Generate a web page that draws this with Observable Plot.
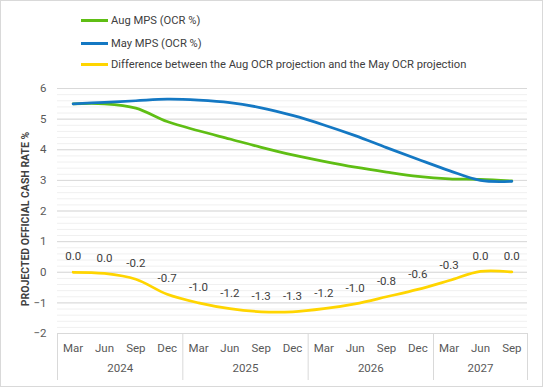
<!DOCTYPE html>
<html>
<head>
<meta charset="utf-8">
<script src="https://cdn.jsdelivr.net/npm/d3@7"></script>
<script src="https://cdn.jsdelivr.net/npm/@observablehq/plot@0.6"></script>
<style>
  html, body { margin: 0; padding: 0; background: #fff; }
  #chart { position: relative; width: 543px; height: 387px; overflow: hidden; background: #fff;
           font-family: "Roboto", "Liberation Sans", sans-serif; }
  #legend { position: absolute; left: 0; top: 0; width: 543px; height: 80px; }
  .item { position: absolute; left: 81px; height: 16px; display: flex; align-items: center; }
  .sw { width: 27px; height: 3px; margin-right: 3px; }
  .lbl { font-size: 11.2px; color: #404040; white-space: nowrap; }
  #plot { position: absolute; left: 0; top: 80px; }
  #border { position: absolute; inset: 0; border: 1px solid #d9d9d9; pointer-events: none; }
</style>
</head>
<body>
<div id="chart">
  <div id="legend"></div>
  <div id="plot"></div>
  <div id="border"></div>
</div>
<script>
// ---- data ----
const quarters = ["Mar","Jun","Sep","Dec","Mar","Jun","Sep","Dec","Mar","Jun","Sep","Dec","Mar","Jun","Sep"];
const years    = [2024,2024,2024,2024,2025,2025,2025,2025,2026,2026,2026,2026,2027,2027,2027];
const augMPS   = [5.50,5.50,5.36,4.92,4.62,4.35,4.08,3.83,3.62,3.43,3.27,3.13,3.05,3.03,2.98];
const mayMPS   = [5.50,5.55,5.60,5.65,5.62,5.54,5.37,5.12,4.81,4.46,4.07,3.69,3.32,3.00,2.97];
const diffOCR  = [0.00,-0.04,-0.23,-0.72,-1.00,-1.19,-1.29,-1.29,-1.19,-1.03,-0.80,-0.56,-0.27,0.03,0.01];
const yTicks   = [-2,-1,0,1,2,3,4,5,6];
const seriesNames = ["Aug MPS (OCR %)", "May MPS (OCR %)", "Difference between the Aug OCR projection and the May OCR projection"];
const seriesColors = ["#5fbe14", "#1478c3", "#ffd500"];
const yTitle = "PROJECTED OFFICIAL CASH RATE %";

const FONT = '"Roboto", "Liberation Sans", sans-serif';

const rows = quarters.map((q, i) => ({i, q, year: years[i], aug: augMPS[i], may: mayMPS[i], diff: diffOCR[i]}));
const yearGroups = d3.groups(rows, d => d.year).map(([year, r]) => ({
  year, mid: d3.mean(r, d => d.i), start: d3.min(r, d => d.i) - 0.5, end: d3.max(r, d => d.i) + 0.5
}));
const bounds = Array.from(new Set(yearGroups.flatMap(g => [g.start, g.end])));
const fmt = v => (Math.round(v * 10) / 10 || 0).toFixed(1);

// ---- legend ----
const legend = document.getElementById("legend");
const legendY = [12, 35, 56];
seriesNames.forEach((name, k) => {
  const it = document.createElement("div");
  it.className = "item";
  it.style.top = legendY[k] + "px";
  it.innerHTML = `<div class="sw" style="background:${seriesColors[k]}"></div><div class="lbl"></div>`;
  it.querySelector(".lbl").textContent = name;
  legend.appendChild(it);
});

// ---- plot ----
const chart = Plot.plot({
  width: 543,
  height: 307,
  marginTop: 8,
  marginBottom: 54,
  marginLeft: 57,
  marginRight: 16,
  style: {fontFamily: FONT, fontSize: "11px", background: "transparent", overflow: "visible"},
  x: {type: "linear", domain: [-0.5, quarters.length - 0.5], axis: null},
  y: {domain: [-2, 6], axis: null},
  marks: [
    Plot.gridY({ticks: 40, stroke: "#f0f0f0", strokeOpacity: 1, strokeWidth: 1}),
    Plot.gridY(yTicks, {stroke: "#d9d9d9", strokeOpacity: 1, strokeWidth: 1}),
    Plot.axisY(yTicks, {tickSize: 0, tickPadding: 11, fontSize: 11.5, fill: "#595959", label: null}),
    Plot.text([yTitle], {frameAnchor: "left", textAnchor: "middle", rotate: -90, dx: -32, dy: 8,
      fontSize: 10.5, fontWeight: "bold", fill: "#404040"}),
    Plot.ruleX(bounds, {x: d => d, y1: -2, y2: -2, insetBottom: -47, stroke: "#d9d9d9", strokeWidth: 1}),
    Plot.axisX(rows.map(d => d.i), {tickSize: 0, tickPadding: 10, fontSize: 11.5, fill: "#595959", label: null,
      tickFormat: i => quarters[i]}),
    Plot.text(yearGroups, {x: "mid", text: d => String(d.year), frameAnchor: "bottom", dy: 38, fontSize: 11.5, fill: "#595959"}),
    Plot.line(rows, {x: "i", y: "aug", stroke: seriesColors[0], strokeWidth: 2.75, curve: "catmull-rom"}),
    Plot.line(rows, {x: "i", y: "may", stroke: seriesColors[1], strokeWidth: 2.75, curve: "catmull-rom"}),
    Plot.line(rows, {x: "i", y: "diff", stroke: seriesColors[2], strokeWidth: 2.75, curve: "catmull-rom"}),
    Plot.text(rows, {x: "i", y: "diff", text: d => fmt(d.diff), dy: -15.5, fontSize: 11.5, fill: "#404040"})
  ]
});
document.getElementById("plot").appendChild(chart);
</script>
</body>
</html>
